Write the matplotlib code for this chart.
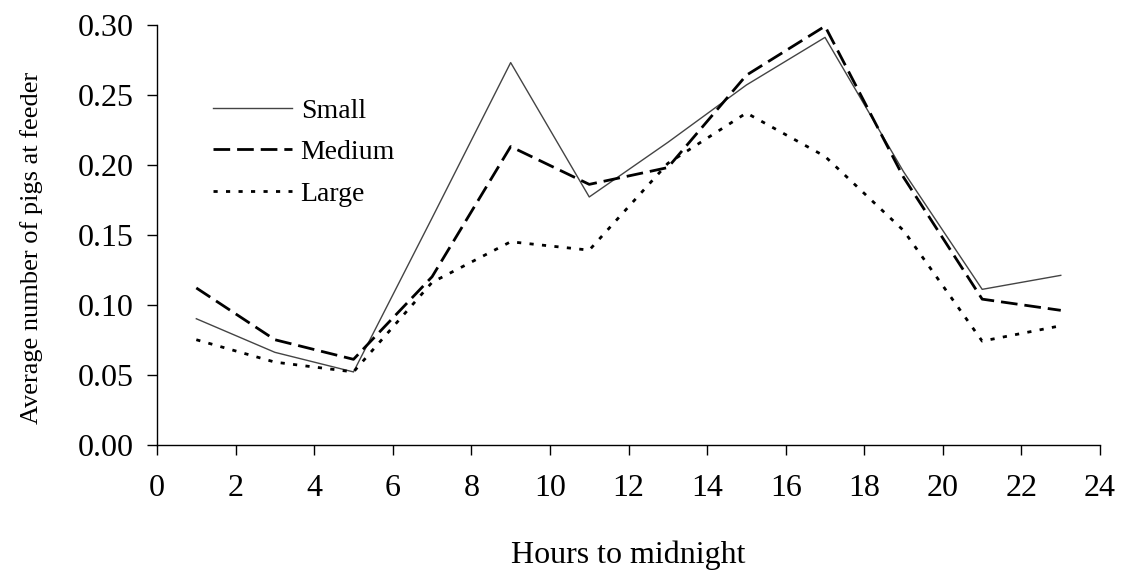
import numpy as np
import matplotlib.pyplot as plt
from matplotlib.ticker import FormatStrFormatter

plt.rcParams['font.family'] = ['Liberation Serif', 'DejaVu Serif']

# data
hours = [1, 3, 5, 7, 9, 11, 13, 15, 17, 19, 21, 23]
small = [0.090, 0.066, 0.052, 0.162, 0.273, 0.177, 0.216, 0.257, 0.291, 0.195, 0.111, 0.121]
medium = [0.112, 0.075, 0.061, 0.120, 0.213, 0.186, 0.198, 0.264, 0.299, 0.191, 0.104, 0.096]
large = [0.075, 0.059, 0.052, 0.116, 0.145, 0.139, 0.201, 0.237, 0.206, 0.153, 0.074, 0.085]

fig = plt.figure(figsize=(11.24, 5.78), dpi=100)
ax = fig.add_axes([0.1397, 0.2306, 0.839, 0.7265])

ax.plot(hours, small, color='#444444', lw=1.0, ls='-', label='Small')
ax.plot(hours, medium, color='black', lw=2.0, ls=(0, (6, 2.5)), label='Medium')
ax.plot(hours, large, color='black', lw=2.0, ls=(0, (1.5, 3)), label='Large')

ax.set_xlim(0, 24)
ax.set_ylim(0, 0.30)
ax.set_xticks(np.arange(0, 25, 2))
ax.set_yticks(np.arange(0, 0.301, 0.05))
ax.yaxis.set_major_formatter(FormatStrFormatter('%.2f'))

for s in ['top', 'right']:
    ax.spines[s].set_visible(False)
for s in ['left', 'bottom']:
    ax.spines[s].set_linewidth(1.0)
ax.tick_params(direction='out', length=7, width=1.0, labelsize=23)
ax.tick_params(axis='x', pad=14)
ax.tick_params(axis='y', pad=10)

ax.set_xlabel('Hours to midnight', fontsize=23, labelpad=27)
ax.set_ylabel('Average number of pigs at feeder', fontsize=19)
ax.yaxis.set_label_coords(-0.121, 0.468)

ax.legend(loc='upper left', bbox_to_anchor=(0.033, 0.885), frameon=False,
          fontsize=20, handlelength=2.85, handletextpad=0.3, labelspacing=0.58)

fig.savefig('out.png', dpi=100)
